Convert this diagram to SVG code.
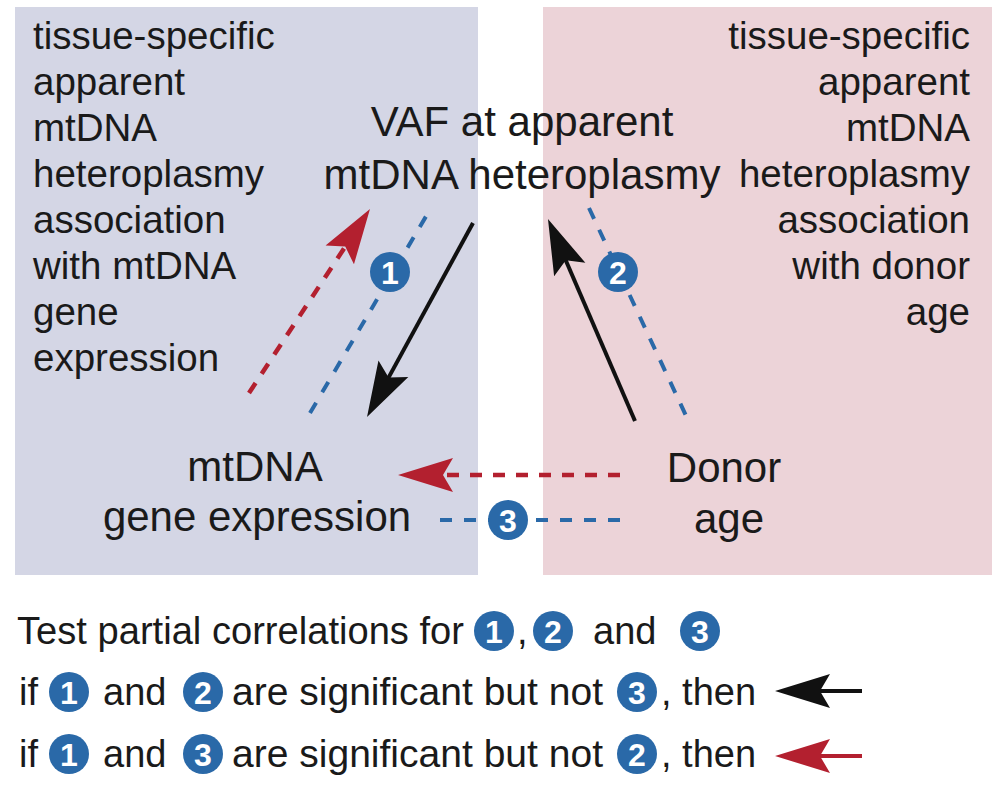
<svg xmlns="http://www.w3.org/2000/svg" width="1000" height="793" viewBox="0 0 1000 793">
<style>
text{font-family:"Liberation Sans",Arial,sans-serif;fill:#1a1a1a}
.side{font-size:38.5px}
.main{font-size:42px}
.leg{font-size:38px}
.bn{font-size:32px;font-weight:bold;fill:#fff;text-anchor:middle}
.badge{fill:#2a69a8}
.blk{stroke:#111;stroke-width:4;fill:none}
.red{stroke:#b3202f;stroke-width:4.5;fill:none;stroke-dasharray:12 11}
.blu{stroke:#2a69a8;stroke-width:4;fill:none;stroke-dasharray:12 12}
</style>
<defs>
<marker id="hb" markerUnits="userSpaceOnUse" viewBox="-60 -20 65 40" markerWidth="65" markerHeight="40" refX="-40" refY="0" orient="auto">
<path d="M0,0 L-55,-17 L-45,0 L-55,17 Z" fill="#111"/>
</marker>
<marker id="hr" markerUnits="userSpaceOnUse" viewBox="-60 -20 65 40" markerWidth="65" markerHeight="40" refX="-40" refY="0" orient="auto">
<path d="M0,0 L-55,-17 L-45,0 L-55,17 Z" fill="#b3202f"/>
</marker>
<g id="b1"><circle r="20" class="badge"/><text class="bn" y="11.5">1</text></g>
<g id="b2"><circle r="20" class="badge"/><text class="bn" y="11.5">2</text></g>
<g id="b3"><circle r="20" class="badge"/><text class="bn" y="11.5">3</text></g>
</defs>
<rect width="1000" height="793" fill="#fff"/>
<g id="panel-left">
<rect x="15" y="7" width="463" height="568" fill="#d4d6e5"/>
<text class="side" x="33" y="49">tissue-specific</text>
<text class="side" x="33" y="95">apparent</text>
<text class="side" x="33" y="141">mtDNA</text>
<text class="side" x="33" y="187">heteroplasmy</text>
<text class="side" x="33" y="233">association</text>
<text class="side" x="33" y="279">with mtDNA</text>
<text class="side" x="33" y="325">gene</text>
<text class="side" x="33" y="371">expression</text>
</g>
<g id="panel-right">
<rect x="543" y="7" width="449" height="568" fill="#ecd3d8"/>
<g text-anchor="end">
<text class="side" x="970" y="49">tissue-specific</text>
<text class="side" x="970" y="95">apparent</text>
<text class="side" x="970" y="141">mtDNA</text>
<text class="side" x="970" y="187">heteroplasmy</text>
<text class="side" x="970" y="233">association</text>
<text class="side" x="970" y="279">with donor</text>
<text class="side" x="970" y="325">age</text>
</g>
</g>
<g id="node-vaf" text-anchor="middle">
<text class="main" x="522" y="136">VAF at apparent</text>
<text class="main" x="522" y="189">mtDNA heteroplasmy</text>
</g>
<g id="node-expr" text-anchor="middle">
<text class="main" x="255" y="481">mtDNA</text>
<text class="main" x="257" y="531">gene expression</text>
</g>
<g id="node-age" text-anchor="middle">
<text class="main" x="724" y="482">Donor</text>
<text class="main" x="729" y="533">age</text>
</g>
<g id="connectors">
<line class="red" x1="249" y1="393" x2="348" y2="242.4" marker-end="url(#hr)"/>
<line class="blu" x1="310" y1="413" x2="428" y2="213"/>
<line class="blk" x1="473" y1="223" x2="386.2" y2="381.9" marker-end="url(#hb)"/>
<line class="blk" x1="635" y1="421" x2="563.8" y2="255.7" marker-end="url(#hb)"/>
<line class="blu" x1="589" y1="208" x2="688" y2="420"/>
<line class="red" x1="620" y1="475" x2="438" y2="475" stroke-dasharray="13 13" marker-end="url(#hr)"/>
<line class="blu" x1="620" y1="520" x2="432" y2="520" stroke-dasharray="12 18"/>
<use href="#b1" x="390" y="272"/>
<use href="#b2" x="618" y="272"/>
<use href="#b3" x="508" y="520"/>
</g>
<g id="legend">
<text class="leg" x="17" y="644" textLength="447" lengthAdjust="spacingAndGlyphs">Test partial correlations for</text>
<use href="#b1" x="494" y="631"/>
<text class="leg" x="517" y="644">,</text>
<use href="#b2" x="553" y="631"/>
<text class="leg" x="593" y="644">and</text>
<use href="#b3" x="700" y="631"/>

<text class="leg" x="19" y="705">if</text>
<use href="#b1" x="69" y="692"/>
<text class="leg" x="103" y="705">and</text>
<use href="#b2" x="203" y="692"/>
<text class="leg" x="232" y="705" textLength="371" lengthAdjust="spacingAndGlyphs">are significant but not</text>
<use href="#b3" x="637" y="692"/>
<text class="leg" x="661" y="705">, then</text>
<line class="blk" x1="862" y1="691" x2="815" y2="691" marker-end="url(#hb)"/>

<text class="leg" x="19" y="767">if</text>
<use href="#b1" x="69" y="754"/>
<text class="leg" x="103" y="767">and</text>
<use href="#b3" x="203" y="754"/>
<text class="leg" x="232" y="767" textLength="371" lengthAdjust="spacingAndGlyphs">are significant but not</text>
<use href="#b2" x="637" y="754"/>
<text class="leg" x="661" y="767">, then</text>
<line x1="862" y1="756" x2="815" y2="756" stroke="#b3202f" stroke-width="4" marker-end="url(#hr)"/>
</g>
</svg>
